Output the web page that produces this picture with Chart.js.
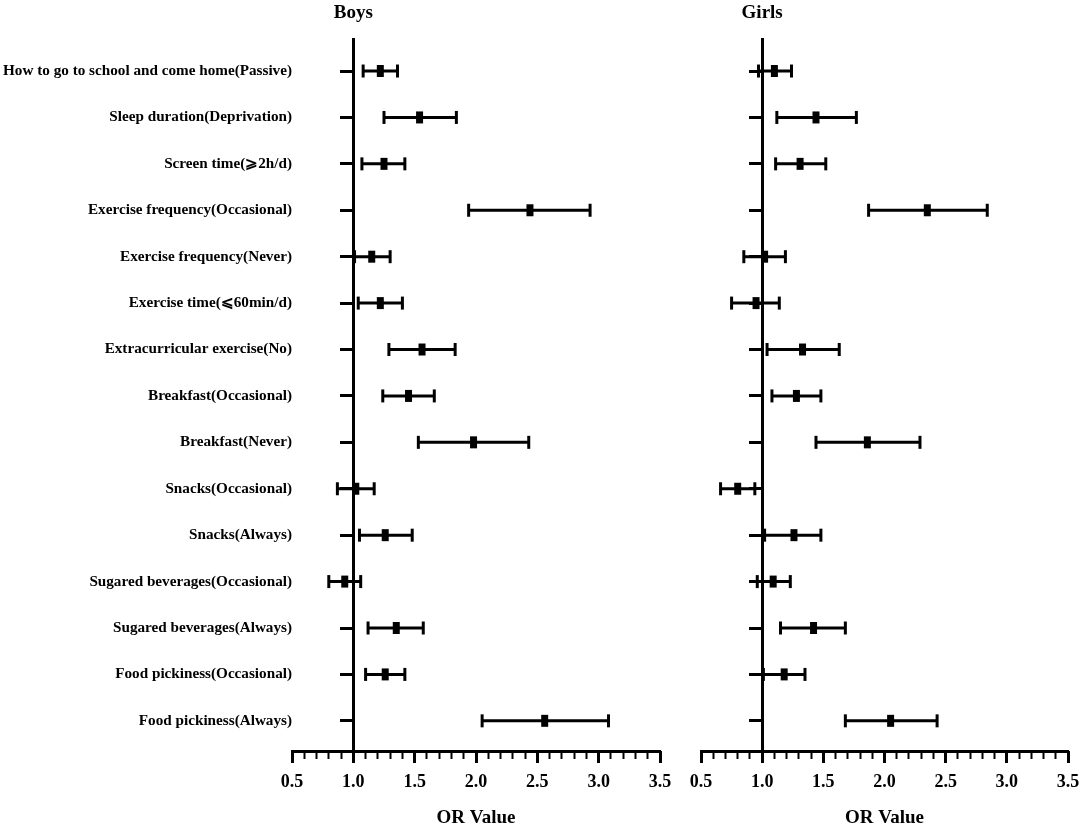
<!DOCTYPE html>
<html>
<head>
<meta charset="utf-8">
<script src="https://cdn.jsdelivr.net/npm/chart.js@4.4.1/dist/chart.umd.min.js"></script>
<style>
  body{margin:0;background:#fff;overflow:hidden;}
  #wrap{position:relative;width:1084px;height:828px;}
  canvas{position:absolute;top:0;}
  #boys{left:0;}
  #girls{left:680px;}
</style>
</head>
<body>
<div id="wrap">
  <canvas id="boys" width="680" height="828"></canvas>
  <canvas id="girls" width="404" height="828"></canvas>
</div>
<script>
const categories = [
  "How to go to school and come home(Passive)",
  "Sleep duration(Deprivation)",
  "Screen time(⩾2h/d)",
  "Exercise frequency(Occasional)",
  "Exercise frequency(Never)",
  "Exercise time(⩽60min/d)",
  "Extracurricular exercise(No)",
  "Breakfast(Occasional)",
  "Breakfast(Never)",
  "Snacks(Occasional)",
  "Snacks(Always)",
  "Sugared beverages(Occasional)",
  "Sugared beverages(Always)",
  "Food pickiness(Occasional)",
  "Food pickiness(Always)"
]

// boys: OR with 95% CI
const boysOR = [1.22, 1.54, 1.25, 2.44, 1.15, 1.22, 1.56, 1.45, 1.98, 1.02, 1.26, 0.93, 1.35, 1.26, 2.56]
const boysLo = [1.08, 1.25, 1.07, 1.94, 1.01, 1.04, 1.29, 1.24, 1.53, 0.87, 1.05, 0.80, 1.12, 1.10, 2.05]
const boysHi = [1.36, 1.84, 1.42, 2.93, 1.30, 1.40, 1.83, 1.66, 2.43, 1.17, 1.48, 1.06, 1.57, 1.42, 3.08]

// girls
const girlsOR = [1.10, 1.44, 1.31, 2.35, 1.02, 0.95, 1.33, 1.28, 1.86, 0.80, 1.26, 1.09, 1.42, 1.18, 2.05]
const girlsLo = [0.97, 1.12, 1.11, 1.87, 0.85, 0.75, 1.04, 1.08, 1.44, 0.66, 1.02, 0.96, 1.15, 1.01, 1.68]
const girlsHi = [1.24, 1.77, 1.52, 2.84, 1.19, 1.14, 1.63, 1.48, 2.29, 0.94, 1.48, 1.23, 1.68, 1.35, 2.43]

const xTicks = [0.5, 1.0, 1.5, 2.0, 2.5, 3.0, 3.5]

const font = 'Liberation Serif'
const rows = categories.map((c, i) => i + 1)
const yMin = 0.31, yMax = 15.65

function rowTicks(scale){
  scale.ticks = rows.map(r => ({value: r}))
}

function isMajor(v){
  return xTicks.some(t => Math.abs(t - v) < 1e-6)
}

const panelTitle = {
  id: 'panelTitle',
  afterDraw(chart, args, opts){
    let ctx = chart.ctx
    ctx.save()
    ctx.font = `bold 19px "${font}"`
    ctx.fillStyle = '#000'
    ctx.textAlign = 'center'
    ctx.textBaseline = 'middle'
    ctx.fillText(opts.text, chart.scales.x.getPixelForValue(1), 13)
    ctx.restore()
  }
}

function panelData(or, lo, hi){
  let whisker = []
  rows.forEach((r, i) => {
    whisker.push({x: lo[i], y: r}, {x: hi[i], y: r}, {x: hi[i], y: null})
  })
  return {
    datasets: [
      { // OR marker
        data: rows.map((r, i) => ({x: or[i], y: r})),
        pointStyle: 'line', pointRotation: 90, pointRadius: 6, pointHoverRadius: 6,
        pointBorderWidth: 7, pointBorderColor: '#000', xAxisID: 'x', yAxisID: 'y'
      },
      { // CI caps
        data: rows.flatMap((r, i) => [{x: lo[i], y: r}, {x: hi[i], y: r}]),
        pointStyle: 'line', pointRotation: 90, pointRadius: 6.5, pointHoverRadius: 6.5,
        pointBorderWidth: 3, pointBorderColor: '#000', xAxisID: 'x', yAxisID: 'y'
      },
      { // CI line
        data: whisker, showLine: true, spanGaps: false, pointRadius: 0,
        borderWidth: 3, borderColor: '#000', xAxisID: 'x', yAxisID: 'y'
      }
    ]
  }
}

function panelOptions(title, withLabels, pad){
  return {
    responsive: false,
    animation: false,
    events: [],
    layout: {padding: pad},
    plugins: {
      legend: {display: false},
      tooltip: {enabled: false},
      panelTitle: {text: title}
    },
    scales: {
      x: {
        type: 'linear', position: 'bottom', min: 0.5, max: 3.5,
        ticks: {
          // tall line height pushes the labels down without adding side padding
          stepSize: 0.1, autoSkip: false, maxRotation: 0, padding: 0, color: '#000',
          font: {family: font, size: 18, weight: 'bold', lineHeight: 2.6},
          callback: v => isMajor(v) ? v.toFixed(1) : ''
        },
        grid: {drawOnChartArea: false, tickLength: 8, tickWidth: 2, tickColor: '#000'},
        border: {display: true, width: 3, color: '#000'},
        title: {
          display: true, text: 'OR Value', color: '#000',
          font: {family: font, size: 19, weight: 'bold', lineHeight: 1},
          padding: {top: 0, bottom: 0}
        },
        afterFit: s => { s.height = 77 }
      },
      x2: {
        type: 'linear', position: {y: yMax}, min: 0.5, max: 3.5,
        afterBuildTicks: s => { s.ticks = xTicks.map(v => ({value: v})) },
        ticks: {display: false},
        grid: {drawOnChartArea: false, tickLength: 12, tickWidth: 3, tickColor: '#000'},
        border: {display: false}
      },
      y: {
        type: 'linear', display: withLabels, reverse: true, min: yMin, max: yMax,
        afterBuildTicks: rowTicks,
        ticks: {
          autoSkip: false, padding: 0, color: '#000',
          font: {family: font, size: 15.2, weight: 'bold'},
          callback: v => categories[Math.round(v) - 1]
        },
        grid: {display: false, drawTicks: false},
        border: {display: false},
        afterFit: s => { if (withLabels) s.width = 292 }
      },
      y2: {
        type: 'linear', position: {x: 1}, reverse: true, min: yMin, max: yMax,
        afterBuildTicks: rowTicks,
        ticks: {display: false},
        grid: {drawOnChartArea: false, tickLength: 12, tickWidth: 3, tickColor: '#000'},
        border: {display: true, width: 3, color: '#000'}
      }
    }
  }
}

new Chart(document.getElementById('boys'), {
  type: 'scatter',
  data: panelData(boysOR, boysLo, boysHi),
  options: panelOptions('Boys', true, {top: 39, right: 20, left: 0, bottom: 0}),
  plugins: [panelTitle]
})

new Chart(document.getElementById('girls'), {
  type: 'scatter',
  data: panelData(girlsOR, girlsLo, girlsHi),
  options: panelOptions('Girls', false, {top: 39, right: 16, left: 21, bottom: 0}),
  plugins: [panelTitle]
})
</script>
</body>
</html>
